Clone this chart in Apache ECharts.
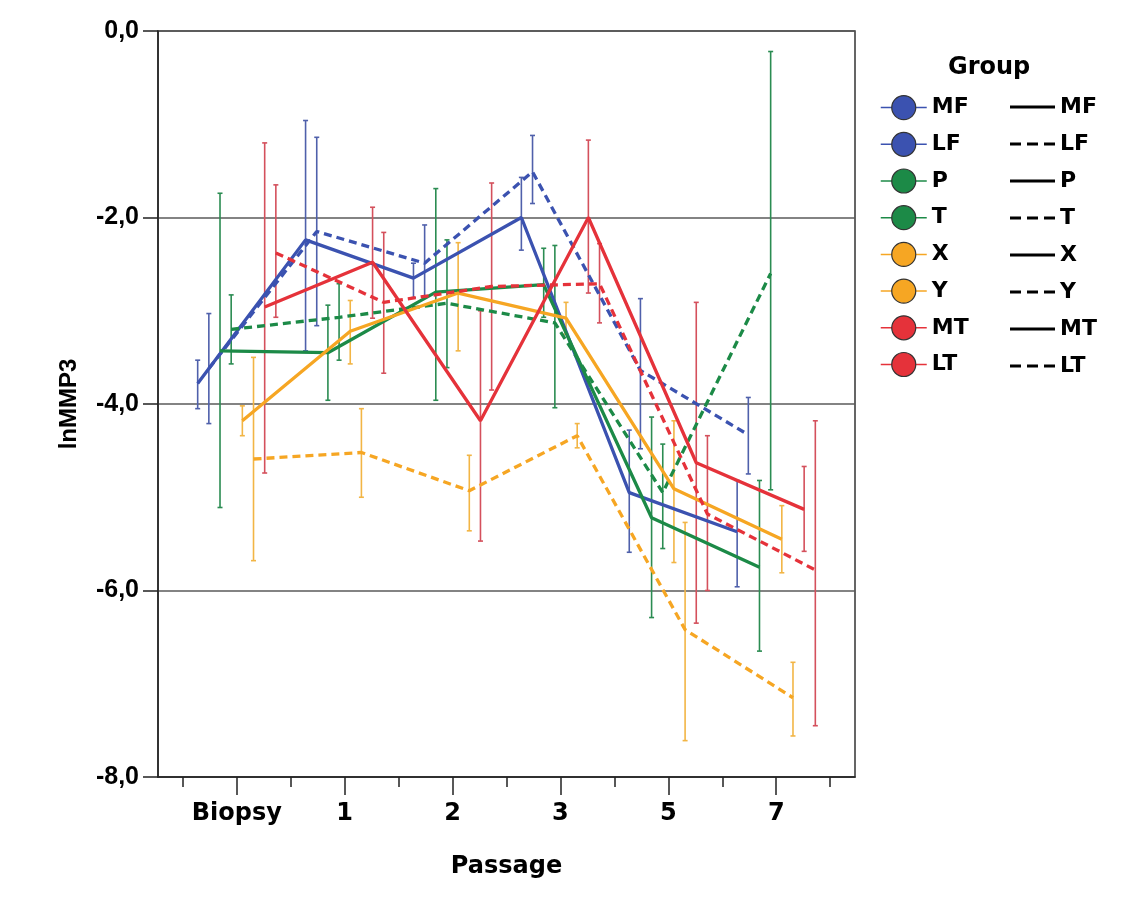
<!DOCTYPE html>
<html><head><meta charset="utf-8">
<script src="https://cdn.jsdelivr.net/npm/echarts@6/dist/echarts.min.js"></script>
<style>html,body{margin:0;padding:0;background:#fff}#c{width:1136px;height:914px}</style>
</head><body><div id="c"></div>
<script>
// ---- data ----
const categories = ['Biopsy', '1', '2', '3', '5', '7'];
const groups = ['MF', 'LF', 'P', 'T', 'X', 'Y', 'MT', 'LT'];
const yTicks = [0, -2, -4, -6, -8];

const meanMF = [-3.78, -2.24, -2.65, -2.00, -4.95, -5.37];
const hiMF   = [-3.53, -0.96, -2.49, -1.57, -4.28, -4.82];
const loMF   = [-4.05, -3.43, -2.86, -2.35, -5.59, -5.96];

const meanLF = [-3.62, -2.15, -2.49, -1.51, -3.64, -4.33];
const hiLF   = [-3.03, -1.14, -2.08, -1.12, -2.87, -3.93];
const loLF   = [-4.21, -3.16, -2.86, -1.85, -4.48, -4.75];

const meanP  = [-3.43, -3.45, -2.80, -2.72, -5.22, -5.75];
const hiP    = [-1.74, -2.94, -1.69, -2.33, -4.14, -4.82];
const loP    = [-5.11, -3.96, -3.96, -3.07, -6.29, -6.65];

const meanT  = [-3.20, -3.07, -2.92, -3.13, -4.95, -2.60];
const hiT    = [-2.83, -2.71, -2.24, -2.30, -4.43, -0.22];
const loT    = [-3.57, -3.53, -3.61, -4.04, -5.55, -4.92];

const meanX  = [-4.18, -3.22, -2.81, -3.08, -4.91, -5.45];
const hiX    = [-4.02, -2.89, -2.27, -2.91, -4.18, -5.09];
const loX    = [-4.34, -3.57, -3.43, -3.25, -5.70, -5.81];

const meanY  = [-4.59, -4.52, -4.93, -4.34, -6.42, -7.15];
const hiY    = [-3.50, -4.05, -4.55, -4.21, -5.27, -6.77];
const loY    = [-5.68, -5.00, -5.36, -4.47, -7.61, -7.56];

const meanMT = [-2.96, -2.48, -4.18, -2.00, -4.63, -5.13];
const hiMT   = [-1.20, -1.89, -3.00, -1.17, -2.91, -4.67];
const loMT   = [-4.74, -3.08, -5.47, -2.81, -6.35, -5.58];

const meanLT = [-2.38, -2.91, -2.74, -2.71, -5.18, -5.78];
const hiLT   = [-1.65, -2.16, -1.63, -2.28, -4.34, -4.18];
const loLT   = [-3.07, -3.67, -3.85, -3.13, -6.00, -7.45];

// ---- chart ----
const means = [meanMF, meanLF, meanP, meanT, meanX, meanY, meanMT, meanLT];
const his = [hiMF, hiLF, hiP, hiT, hiX, hiY, hiMT, hiLT];
const los = [loMF, loLF, loP, loT, loX, loY, loMT, loLT];

const lineColors = ['#3b52b0', '#3b52b0', '#1c8a47', '#1c8a47', '#f6a623', '#f6a623', '#e5323a', '#e5323a'];
const barColors  = ['#4f60ab', '#4f60ab', '#2b8c52', '#2b8c52', '#f2b545', '#f2b545', '#d4505c', '#d4505c'];
const DODGE = 0.1035;
const offset = i => (i - 3.5) * DODGE;

const FONT = 'DejaVu Sans';
const SOLID = 'path://M0,0L0,0M0,30L0,30M0,13.5H45V16.5H0Z';
const DASH = 'path://M0,0L0,0M0,30L0,30M0,13.5H11V16.5H0ZM17,13.5H28V16.5H17ZM34,13.5H45V16.5H34Z';

const series = [];
groups.forEach((g, i) => {
  series.push({
    name: g + ' CI', type: 'custom', z: 2, silent: true, xAxisIndex: 0,
    encode: { x: 0, y: [1, 2] },
    data: means[i].map((v, k) => [k + 1 + offset(i), his[i][k], los[i][k]]),
    renderItem: (params, api) => {
      const x = api.value(0);
      const p1 = api.coord([x, api.value(1)]);
      const p2 = api.coord([x, api.value(2)]);
      const cap = 2.5;
      const style = { stroke: barColors[i], lineWidth: 1.6 };
      return { type: 'group', children: [
        { type: 'line', shape: { x1: p1[0], y1: p1[1], x2: p2[0], y2: p2[1] }, style },
        { type: 'line', shape: { x1: p1[0] - cap, y1: p1[1], x2: p1[0] + cap, y2: p1[1] }, style },
        { type: 'line', shape: { x1: p2[0] - cap, y1: p2[1], x2: p2[0] + cap, y2: p2[1] }, style }
      ] };
    }
  });
});
groups.forEach((g, i) => {
  series.push({
    name: g, type: 'line', z: 3, silent: true, symbol: 'none', xAxisIndex: 0,
    data: means[i].map((v, k) => [k + 1 + offset(i), v]),
    itemStyle: { color: lineColors[i] },
    lineStyle: { color: lineColors[i], width: 3.3, type: (i % 2) ? [8, 5] : 'solid' }
  });
});

const legendText = { fontFamily: FONT, fontWeight: 'bold', fontSize: 22, color: '#000' };

const option = {
  animation: false,
  backgroundColor: '#fff',
  title: { text: 'Group', left: 943, top: 51,
    textStyle: { fontFamily: FONT, fontWeight: 'bold', fontSize: 24, color: '#000' } },
  legend: [
    { orient: 'vertical', left: 875, top: 90, itemWidth: 46, itemHeight: 30, itemGap: 11.5,
      selectedMode: false, data: groups, textStyle: legendText,
      lineStyle: { type: 'solid', width: 1.5 },
      itemStyle: { borderColor: '#333', borderWidth: 1.2 } },
    { orient: 'vertical', left: 1005, top: 87, itemWidth: 45, itemHeight: 30, itemGap: 7,
      selectedMode: false, textStyle: legendText,
      itemStyle: { color: '#000', borderWidth: 0 },
      data: groups.map((g, i) => ({ name: g, icon: (i % 2) ? DASH : SOLID,
        itemStyle: { color: '#000', borderWidth: 0 } })) }
  ],
  grid: { left: 158, right: 281, top: 31, bottom: 137, show: true,
    borderColor: '#333', borderWidth: 1.5, backgroundColor: '#fff' },
  xAxis: [
    { type: 'value', min: 0.27, max: 6.73, position: 'bottom',
      name: 'Passage', nameLocation: 'middle', nameGap: 78,
      nameTextStyle: { fontFamily: FONT, fontWeight: 'bold', fontSize: 24, color: '#000' },
      axisLine: { show: true, onZero: false, lineStyle: { color: '#222', width: 1.5 } },
      axisTick: { show: true, inside: false, length: 18, customValues: [1, 2, 3, 4, 5, 6], lineStyle: { color: '#222', width: 1.5 } },
      axisLabel: { show: true, margin: 25, customValues: [1, 2, 3, 4, 5, 6],
        formatter: v => categories[Math.round(v) - 1] || '',
        fontFamily: FONT, fontWeight: 'bold', fontSize: 24, color: '#000' },
      splitLine: { show: false } },
    { type: 'value', min: 0.27, max: 6.73, position: 'bottom',
      axisLine: { show: false, onZero: false },
      axisTick: { show: true, inside: false, length: 10, customValues: [0.5, 1.5, 2.5, 3.5, 4.5, 5.5, 6.5], lineStyle: { color: '#222', width: 1.5 } },
      axisLabel: { show: false }, splitLine: { show: false } }
  ],
  yAxis: {
    type: 'value', min: -8, max: 0, interval: 2,
    name: 'lnMMP3', nameLocation: 'middle', nameGap: 77,
    nameTextStyle: { fontFamily: 'Liberation Sans', fontWeight: 'bold', fontSize: 24, color: '#000' },
    axisLine: { show: true, lineStyle: { color: '#222', width: 1.5 } },
    axisTick: { show: true, length: 15, lineStyle: { color: '#222', width: 1.5 } },
    axisLabel: { margin: 19, customValues: yTicks, formatter: v => v.toFixed(1).replace('.', ','),
      fontFamily: 'Liberation Sans', fontWeight: 'bold', fontSize: 25, color: '#000' },
    splitLine: { show: true, lineStyle: { color: '#5a5a5a', width: 1.5 } }
  },
  series
};
echarts.init(document.getElementById('c'), null, { renderer: 'canvas' }).setOption(option);
</script></body></html>
